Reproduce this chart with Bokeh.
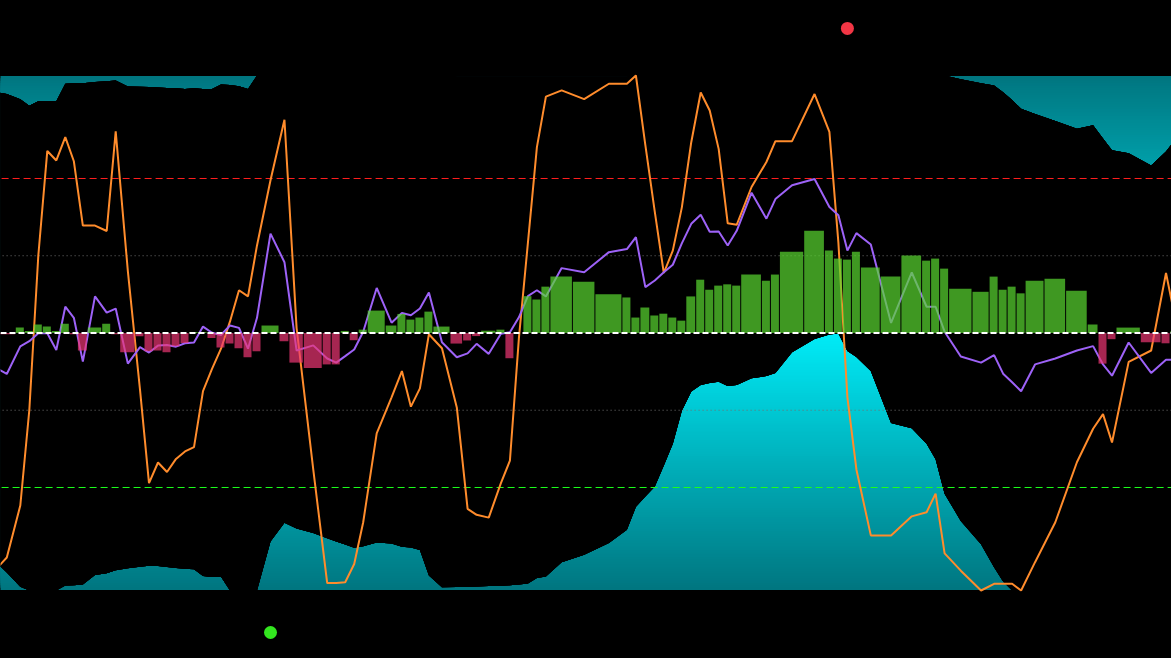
import numpy as np
from bokeh.plotting import figure
from bokeh.models import Range1d, Span
from bokeh.embed import file_html
from bokeh.resources import INLINE

# ---- data (time in hours, bar start times + final close time) ----
t_edges = [-1.9, -0.3, 1.7, 2.7, 3.7, 4.7, 5.7, 6.7, 7.7, 8.6,
           9.7, 11.3, 12.3, 13.3, 15.0, 16.0, 17.0, 18.0, 19.0, 20.0,
           21.0, 22.0, 23.0, 24.0, 25.0, 26.0, 27.0, 28.0, 29.0, 31.0,
           32.1, 33.7, 35.8, 36.8, 37.8, 38.8, 39.8, 40.8, 42.8, 44.1,
           45.1, 46.1, 47.1, 48.1, 50.0, 51.4, 52.4, 53.4, 55.1, 56.1,
           57.1, 58.1, 59.1, 60.1, 61.1, 63.6, 66.1, 69.1, 70.1, 71.1,
           72.2, 73.2, 74.2, 75.2, 76.2, 77.3, 78.3, 79.3, 80.3, 81.3,
           82.3, 84.6, 85.6, 86.6, 89.3, 91.6, 92.6, 93.6, 94.6, 95.6,
           97.8, 100.1, 102.4, 103.4, 104.4, 105.4, 108.0, 109.9, 110.9, 111.9,
           112.9, 113.9, 116.0, 118.4, 120.8, 122.0, 123.0, 124.0, 126.7, 129.0,
           130.0, 131.0]

histogram = [-0.5, -0.5, 2.1, 0.8, 3.3, 2.5, 0.8, 3.6, -0.5, -6.8,
             2.1, 3.6, -0.5, -7.5, -1.3, -7.1, -6.8, -7.5, -5.1, -3.9,
             0.4, 0.4, -1.9, -5.6, -4.1, -5.9, -9.4, -7.1, 2.9, -3.2,
             -11.5, -13.6, -12.2, -12.2, 0.8, -2.8, 1.3, 8.7, 2.9, 7.4,
             5.2, 6.0, 8.3, 2.5, -4.1, -2.9, -1.2, 0.9, 1.3, -9.8,
             0.0, 14.3, 13.0, 18.0, 21.9, 19.9, 15.0, 13.8, 6.0, 9.9,
             6.8, 7.5, 6.0, 4.8, 14.2, 20.7, 16.8, 18.4, 18.9, 18.4,
             22.7, 20.3, 22.7, 31.6, 39.7, 32.0, 28.9, 28.5, 31.6, 25.4,
             21.9, 30.1, 28.1, 28.9, 25.0, 17.2, 16.0, 21.9, 16.8, 18.0,
             15.4, 20.3, 21.1, 16.4, 3.3, -11.9, -2.4, 2.1, -3.6, -4.0,
             0.8]

purple = [-12.4, -15.9, -5.2, -3.2, -0.1, -0.1, -6.6, 10.2, 5.9, -11.1,
          14.2, 7.9, 9.5, -11.9, -5.5, -7.6, -4.9, -4.7, -5.3, -4.0,
          -3.7, 2.5, 0.1, -0.8, 2.9, 2.0, -6.1, 5.9, 38.6, 27.5,
          -6.8, -4.8, -9.9, -11.5, -9.0, -6.4, 0.5, 17.5, 4.0, 7.8,
          6.9, 9.5, 15.7, -3.6, -9.4, -7.9, -4.2, -8.1, -0.3, 0.3,
          6.1, 14.3, 16.6, 14.2, 25.2, 23.6, 31.4, 32.6, 37.2, 17.8,
          20.4, 23.6, 26.5, 34.8, 42.4, 45.9, 39.3, 39.4, 34.0, 39.7,
          54.5, 44.4, 52.0, 57.4, 59.8, 48.9, 45.7, 32.0, 38.8, 34.4,
          3.9, 23.5, 10.2, 10.2, 0.5, -9.1, -11.5, -8.6, -15.8, -19.1,
          -22.6, -12.2, -9.9, -6.8, -5.1, -12.2, -16.6, -3.7, -15.5, -10.4,
          -10.4]

orange = [-94.0, -87.2, -67.0, -30.0, 30.0, 70.7, 67.0, 76.1, 66.7, 41.7,
          41.7, 39.6, 78.3, 24.0, -22.0, -58.3, -50.3, -54.0, -48.9, -46.0,
          -44.3, -22.6, -13.9, -6.1, 4.5, 16.6, 14.2, 34.0, 59.3, 82.8,
          1.9, -53.0, -97.1, -97.1, -96.8, -89.7, -73.5, -39.0, -25.0, -14.8,
          -28.6, -21.5, -0.5, -5.9, -28.9, -68.3, -70.6, -71.7, -58.3, -49.6,
          -2.0, 35.0, 72.2, 91.8, 94.2, 90.8, 96.8, 96.8, 100.0, 73.0,
          47.0, 23.3, 32.0, 48.7, 74.1, 93.4, 86.4, 71.4, 42.6, 42.0,
          56.7, 66.4, 74.5, 74.5, 92.8, 78.1, 35.0, -25.0, -53.0, -78.6,
          -78.6, -71.2, -69.6, -62.4, -85.6, -92.3, -100.0, -97.4, -97.4, -97.4,
          -100.0, -89.0, -73.5, -50.2, -37.2, -31.5, -42.5, -11.2, -6.8, 23.3,
          6.0]

lower_band = [-87.0, -93.0, -98.5, -100.0, -100.0, -100.0, -100.0, -98.1, -98.0, -97.7,
              -94.0, -93.3, -92.1, -91.4, -90.8, -90.4, -90.5, -90.9, -91.3, -91.6,
              -91.7, -94.4, -94.8, -94.7, -100.0, -100.0, -100.0, -100.0, -81.0, -73.7,
              -75.9, -77.7, -79.7, -81.0, -82.1, -83.4, -82.8, -81.4, -81.7, -83.0,
              -83.3, -84.3, -94.2, -98.7, -98.6, -98.5, -98.4, -98.3, -98.2, -98.0,
              -97.7, -97.3, -95.1, -94.6, -89.0, -86.1, -81.6, -76.4, -67.5, -63.5,
              -59.6, -51.5, -43.0, -30.2, -22.7, -20.2, -19.4, -18.9, -20.6, -20.2,
              -17.6, -16.7, -15.5, -7.5, -2.3, -0.6, -0.2, -7.0, -9.3, -14.8,
              -35.0, -37.0, -43.0, -49.0, -62.4, -73.0, -82.0, -91.0, -96.5, -100.0,
              -100.0, -100.0, -100.0, -100.0, -100.0, -100.0, -100.0, -100.0, -100.0, -100.0,
              -100.0]

upper_band = [94.0, 92.8, 90.8, 88.3, 90.0, 90.0, 90.0, 96.8, 97.0, 97.0,
              97.5, 97.8, 98.1, 95.7, 95.6, 95.5, 95.3, 95.1, 95.0, 94.8,
              95.0, 94.8, 94.8, 96.5, 96.3, 95.8, 94.8, 100.0, 100.0, 100.0,
              100.0, 100.0, 100.0, 100.0, 100.0, 100.0, 100.0, 100.0, 100.0, 100.0,
              100.0, 100.0, 100.0, 100.0, 99.6, 99.6, 99.6, 99.6, 99.6, 99.6,
              99.6, 99.6, 99.6, 99.6, 99.6, 99.6, 99.6, 99.6, 100.0, 100.0,
              100.0, 100.0, 100.0, 100.0, 100.0, 100.0, 100.0, 100.0, 100.0, 100.0,
              100.0, 100.0, 100.0, 100.0, 100.0, 100.0, 100.0, 100.0, 100.0, 100.0,
              100.0, 100.0, 100.0, 100.0, 100.0, 98.5, 97.0, 96.1, 93.5, 90.5,
              87.1, 85.0, 82.3, 79.3, 80.7, 75.5, 71.0, 69.8, 65.0, 70.5,
              75.0]

sell_index = [77]
sell_level = [118.3]
buy_index = [28]
buy_level = [-116.3]

levels_dotted = [30, -30]
level_ob = 60
level_os = -60

# ---- figure ----
t = np.array(t_edges)
tm = (t[:-1] + t[1:]) / 2.0
x_lo, x_hi = tm[0], tm[-1]

p = figure(width=1171, height=658, output_backend="svg", toolbar_location=None,
           x_range=Range1d(0, 130.11), y_range=Range1d(-126.408, 129.126),
           x_axis_type=None, y_axis_type=None, min_border=0,
           background_fill_color="black", border_fill_color="black",
           outline_line_color=None)
p.grid.visible = False

# gradient fill for the bands (bright at 0, dark teal at +-100)
N = 110
outer = np.array([0, 118, 128])
inner = np.array([0, 236, 248])
radii = np.linspace(99.8, 0.5, N)
cols = []
for r in radii:
    f = 1 - r / 100.0
    c = outer + f * (inner - outer)
    cols.append("#%02x%02x%02x" % tuple(int(round(v)) for v in c))
p.quad(left=[x_lo] * N, right=[x_hi] * N, bottom=-radii, top=radii,
       fill_color=cols, line_color=None)
# black mask between the two band curves (layered so frame edges stay clean)
for _ in range(5):
    p.varea(x=tm, y1=np.array(lower_band), y2=np.array(upper_band), fill_color="black")

# level lines
for lv in levels_dotted:
    p.segment(x0=[x_lo], x1=[x_hi], y0=[lv], y1=[lv], line_color="#6e6e6e",
              line_width=1, line_dash="1 3")
p.segment(x0=[x_lo], x1=[x_hi], y0=[level_ob], y1=[level_ob], line_color="#ff1f1f",
          line_width=1, line_dash="7 4")
p.segment(x0=[x_lo], x1=[x_hi], y0=[level_os], y1=[level_os], line_color="#1cff1c",
          line_width=1, line_dash="7 4")

# lines
p.line(tm, orange, line_color="#ff8c2c", line_width=2)
p.line(tm, purple, line_color="#9d62f7", line_width=2)

# histogram
h = np.array(histogram)
hcols = ["#5ad831" if v >= 0 else "#ec3674" for v in h]
p.quad(left=t[:-1], right=t[1:] - 0.11, bottom=0, top=h,
       fill_color=hcols, fill_alpha=0.7, line_color=None)

p.add_layout(Span(location=0, dimension="width", line_color="white",
                  line_width=2, line_dash="6 3"))

# signals
p.scatter(x=tm[sell_index], y=sell_level, size=13, fill_color="#f23645", line_color=None)
p.scatter(x=tm[buy_index], y=buy_level, size=13, fill_color="#33e61f", line_color=None)

html = file_html(p, INLINE)
html = html.replace("<head>", "<head><style>html,body{margin:0;padding:0;background:#000;overflow:hidden;}</style>", 1)
open("out.html", "w").write(html)
